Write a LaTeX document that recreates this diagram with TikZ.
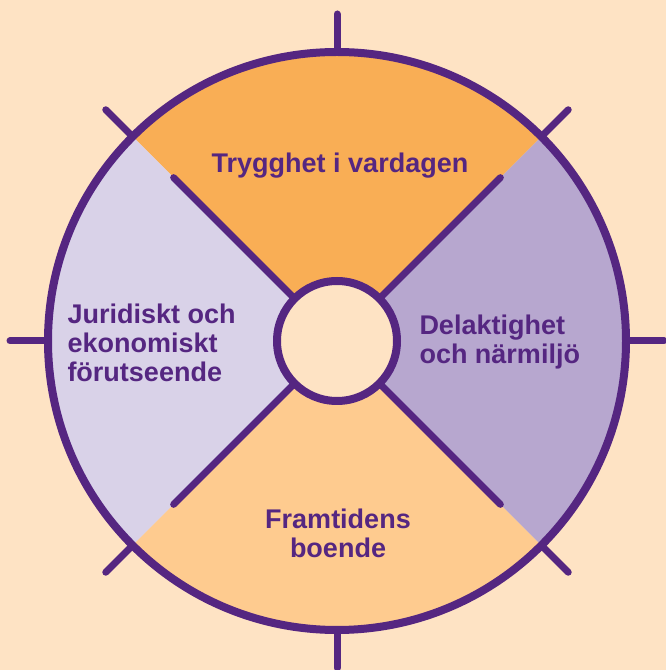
\documentclass[tikz,border=0pt]{standalone}
\usepackage{fontspec}
\setmainfont{Liberation Sans}
\usepackage{tikz}
\usepackage{xcolor}

\definecolor{bgpeach}{HTML}{FEE3C4}
\definecolor{segorange}{HTML}{F9AE55}
\definecolor{seglilac}{HTML}{B7A7CF}
\definecolor{seglight}{HTML}{FECB8F}
\definecolor{segpale}{HTML}{D9D2E8}
\definecolor{ringpurple}{HTML}{552681}

\begin{document}
\begin{tikzpicture}[x=1pt, y=1pt, line width=7pt,
  label/.style={text=ringpurple, font=\fontsize{27}{29}\selectfont\bfseries, inner sep=0pt}]
\useasboundingbox (0,0) rectangle (666,670);
\fill[bgpeach] (0,0) rectangle (666,670);
\begin{scope}[shift={(337,329)}]
\fill[segorange] (0,0) -- (45:289) arc[start angle=45, end angle=135, radius=289] -- cycle;
\fill[segpale] (0,0) -- (135:289) arc[start angle=135, end angle=225, radius=289] -- cycle;
\fill[seglight] (0,0) -- (225:289) arc[start angle=225, end angle=315, radius=289] -- cycle;
\fill[seglilac] (0,0) -- (-45:289) arc[start angle=-45, end angle=45, radius=289] -- cycle;
\foreach \a in {0,45,...,315} {
  \draw[ringpurple, line cap=round] (\a:289) -- (\a:327);
}
\foreach \a in {45,135,225,315} {
  \draw[ringpurple, line cap=round] (\a:60) -- (\a:231);
}
\draw[ringpurple, line width=8pt] (0,0) circle[radius=289];
\node[draw=ringpurple, line width=8pt, fill=bgpeach, circle, minimum size=120pt, inner sep=0pt] (hub) at (0,0) {};
\end{scope}
\node[label, anchor=base] (trygg) at (340,497) {Trygghet i vardagen};
\node[label, anchor=base west, align=left] (delak) at (416,306) {Delaktighet\\och närmiljö};
\node[label, anchor=base west, align=left] (jurid) at (64,288) {Juridiskt och\\ekonomiskt\\förutseende};
\node[label, anchor=base, align=center] (framt) at (338,112) {Framtidens\\boende};
\end{tikzpicture}
\end{document}
